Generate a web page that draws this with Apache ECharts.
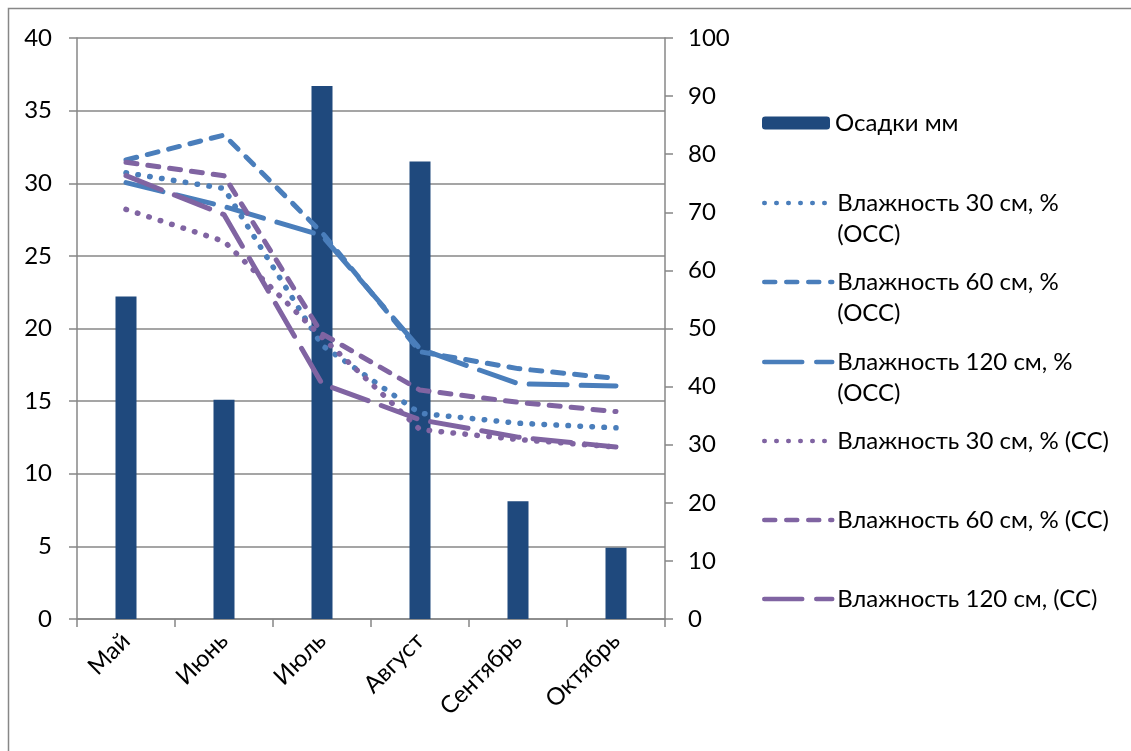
<!DOCTYPE html>
<html>
<head>
<meta charset="utf-8">
<script src="https://cdn.jsdelivr.net/npm/echarts@6/dist/echarts.min.js"></script>
<style>
  html, body { margin: 0; padding: 0; background: #fff; }
  #chart { width: 1131px; height: 751px; }
</style>
</head>
<body>
<div id="chart"></div>
<script>
// Months of the season
const months = ['Май', 'Июнь', 'Июль', 'Август', 'Сентябрь', 'Октябрь'];

// Precipitation, mm (left axis)
const rain = [22.2, 15.1, 36.7, 31.5, 8.1, 4.9];

// Soil moisture, % (right axis)
const moist30occ = [76.8, 74.1, 47.1, 35.4, 33.7, 32.9];
const moist60occ = [79.0, 83.3, 66.5, 46.0, 43.1, 41.4];
const moist120occ = [75.1, 71.0, 66.0, 46.5, 40.5, 40.1];
const moist30cc = [70.5, 65.0, 48.5, 32.6, 30.9, 29.6];
const moist60cc = [78.6, 76.3, 49.1, 39.4, 37.3, 35.7];
const moist120cc = [76.3, 69.6, 40.5, 34.3, 31.3, 29.6];

// Series names and their legend captions
const seriesNames = [
  'Осадки мм',
  'Влажность 30 см, % (ОСС)',
  'Влажность 60 см, % (ОСС)',
  'Влажность 120 см, % (ОСС)',
  'Влажность 30 см, % (СС)',
  'Влажность 60 см, % (СС)',
  'Влажность 120 см, (СС)'
];
const legendLabels = [
  'Осадки мм',
  'Влажность 30 см, %\n(ОСС)',
  'Влажность 60 см, %\n(ОСС)',
  'Влажность 120 см, %\n(ОСС)',
  'Влажность 30 см, % (СС)',
  'Влажность 60 см, % (СС)',
  'Влажность 120 см, (СС)'
];

const FONT = 'Lato, "Open Sans", sans-serif';
const FS = 24;
const BLUE = '#4A7EBB';
const PURPLE = '#8064A2';
const AXIS = '#878787';
const LINE_W = 5;
const DOT_W = 5.5;

const DOTTED = [0.5, 11.5];
const DASHED = [11, 11];
const LONGDASH = [38, 14];

function lineSeries(name, data, color, dash, width) {
  return {
    name: name,
    type: 'line',
    yAxisIndex: 1,
    data: data,
    symbol: 'none',
    z: 3,
    lineStyle: { color: color, width: width, type: dash, cap: 'round', join: 'round' },
    emphasis: { disabled: true },
    itemStyle: { color: color }
  };
}

// One legend block per series; the marker sits on the caption's first line.
// Two-line captions get an empty leading line so the marker centres on line one.
const legendRows = [123, 203, 282, 362, 441, 520, 599];
const LH = 31;
const legends = seriesNames.map(function (name, i) {
  const twoLine = legendLabels[i].indexOf('\n') >= 0;
  return {
    orient: 'vertical',
    left: 762,
    top: twoLine ? legendRows[i] - (LH * 3) / 2 : legendRows[i] - LH / 2,
    padding: 0,
    data: [name],
    selectedMode: false,
    itemWidth: 68,
    itemHeight: 13,
    itemGap: 0,
    formatter: function () { return twoLine ? ' \n' + legendLabels[i] : legendLabels[i]; },
    itemStyle: i === 0 ? {} : { opacity: 0 },
    lineStyle: { width: 4.5, cap: 'round' },
    textStyle: {
      fontFamily: FONT,
      fontSize: FS,
      color: '#000',
      lineHeight: LH
    }
  };
});

const chart = echarts.init(document.getElementById('chart'));
chart.setOption({
  animation: false,
  backgroundColor: '#fff',
  graphic: [{
    type: 'rect',
    shape: { x: 8.5, y: 8.5, width: 1300, height: 900 },
    style: { fill: 'none', stroke: AXIS, lineWidth: 1.5 },
    silent: true
  }],
  grid: { left: 77, right: 466, top: 38, bottom: 132 },
  legend: legends,
  xAxis: {
    type: 'category',
    data: months,
    boundaryGap: true,
    axisLine: { show: true, lineStyle: { color: AXIS, width: 1.5 } },
    axisTick: { show: true, interval: 0, length: 8, lineStyle: { color: AXIS, width: 1.5 } },
    axisLabel: {
      interval: 0,
      rotate: 45,
      margin: 18,
      fontFamily: FONT,
      fontSize: FS,
      color: '#000'
    }
  },
  yAxis: [
    {
      type: 'value',
      min: 0, max: 40, interval: 5,
      position: 'left',
      axisLine: { show: true, lineStyle: { color: AXIS, width: 1.5 } },
      axisTick: { show: true, length: 8, lineStyle: { color: AXIS, width: 1.5 } },
      splitLine: { show: true, lineStyle: { color: AXIS, width: 1.5 } },
      axisLabel: { margin: 25, fontFamily: FONT, fontSize: FS, color: '#000' }
    },
    {
      type: 'value',
      min: 0, max: 100, interval: 10,
      position: 'right',
      axisLine: { show: true, lineStyle: { color: AXIS, width: 1.5 } },
      axisTick: { show: true, length: 8, lineStyle: { color: AXIS, width: 1.5 } },
      splitLine: { show: false },
      axisLabel: { margin: 23, fontFamily: FONT, fontSize: FS, color: '#000' }
    }
  ],
  series: [
    {
      name: seriesNames[0],
      type: 'bar',
      yAxisIndex: 0,
      data: rain,
      barWidth: 21,
      z: 2,
      itemStyle: { color: '#1F497D' }
    },
    lineSeries(seriesNames[1], moist30occ, BLUE, DOTTED, DOT_W),
    lineSeries(seriesNames[2], moist60occ, BLUE, DASHED, LINE_W),
    lineSeries(seriesNames[3], moist120occ, BLUE, LONGDASH, LINE_W),
    lineSeries(seriesNames[4], moist30cc, PURPLE, DOTTED, DOT_W),
    lineSeries(seriesNames[5], moist60cc, PURPLE, DASHED, LINE_W),
    lineSeries(seriesNames[6], moist120cc, PURPLE, LONGDASH, LINE_W)
  ]
});
</script>
</body>
</html>
